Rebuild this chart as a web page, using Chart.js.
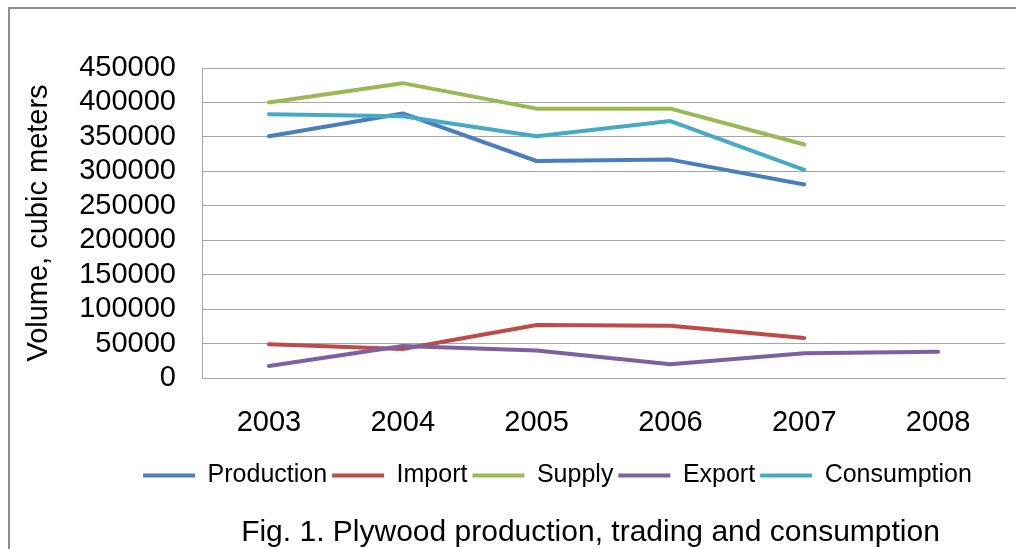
<!DOCTYPE html>
<html>
<head>
<meta charset="utf-8">
<script src="https://cdn.jsdelivr.net/npm/chart.js@4.4.1/dist/chart.umd.min.js"></script>
<style>
  html, body { margin: 0; padding: 0; background: #fff; }
  #wrap { width: 1016px; height: 549px; }
</style>
</head>
<body>
<div id="wrap"><canvas id="plywoodChart" width="1016" height="549"></canvas></div>
<script>
    // Data
    const years = ['2003', '2004', '2005', '2006', '2007', '2008'];
    const production = [351000, 384000, 315000, 317000, 281000];
    const importVol = [49000, 42000, 77000, 76000, 58000];
    const supply = [400000, 428000, 391000, 391000, 339000];
    const exportVol = [17500, 46500, 40000, 20000, 36000, 38000];
    const consumption = [383000, 380000, 351000, 373000, 302000];

    const FONT = '"Liberation Sans", Arial, sans-serif';

    // grey frame around the figure and nudges for legend/caption
    const framePlugin = {
        id: 'frame',
        beforeDraw(chart) {
            const c = chart.ctx;
            c.save();
            c.fillStyle = '#fff';
            c.fillRect(0, 0, chart.width, chart.height);
            c.strokeStyle = '#8c8c8c';
            c.lineWidth = 2;
            c.strokeRect(9, 8, 2000, 2000);
            c.restore();
        },
        afterLayout(chart) {
            chart.legend.left += 49;
            chart.legend.right += 49;
            chart.titleBlock.left += 82;
            chart.titleBlock.right += 82;
        }
    };

    function series(label, data, color, order) {
        return {
            label: label,
            data: data,
            borderColor: color,
            backgroundColor: color,
            borderWidth: 4,
            borderCapStyle: 'round',
            borderJoinStyle: 'round',
            pointRadius: 0,
            pointHoverRadius: 0,
            tension: 0,
            fill: false,
            order: order
        };
    }

    const ctx = document.getElementById('plywoodChart').getContext('2d');
    new Chart(ctx, {
        type: 'line',
        data: {
            labels: years,
            datasets: [
                series('Production', production, '#4a7ebb', 5),
                series('Import', importVol, '#be4b48', 4),
                series('Supply', supply, '#98b954', 3),
                series('Export', exportVol, '#7d60a0', 2),
                series('Consumption', consumption, '#46aac5', 1)
            ]
        },
        options: {
            responsive: false,
            devicePixelRatio: 1,
            animation: false,
            layout: {
                padding: { top: 68, left: 12, right: 11, bottom: 0 }
            },
            plugins: {
                legend: {
                    position: 'bottom',
                    labels: {
                        usePointStyle: true,
                        pointStyle: 'line',
                        pointStyleWidth: 52,
                        boxHeight: 4,
                        padding: 5,
                        color: '#000',
                        font: { family: FONT, size: 25 },
                        sort: (a, b) => a.datasetIndex - b.datasetIndex
                    }
                },
                title: {
                    display: true,
                    position: 'bottom',
                    text: 'Fig. 1. Plywood production, trading and consumption',
                    color: '#000',
                    font: { family: FONT, size: 30, weight: 'normal', lineHeight: 1.1 },
                    padding: { top: 18, bottom: 0 }
                },
                tooltip: { enabled: false }
            },
            scales: {
                x: {
                    offset: true,
                    grid: { display: false, drawTicks: false },
                    border: { display: true, color: '#a6a6a6' },
                    ticks: {
                        color: '#000',
                        padding: 28,
                        maxRotation: 0,
                        font: { family: FONT, size: 29 }
                    },
                    afterFit: (scale) => { scale.height = 80; }
                },
                y: {
                    min: 0,
                    max: 450000,
                    grid: { color: '#a6a6a6', lineWidth: 1, drawTicks: false },
                    border: { display: true, color: '#a6a6a6' },
                    ticks: {
                        stepSize: 50000,
                        autoSkip: false,
                        color: '#000',
                        padding: 26,
                        font: { family: FONT, size: 29 },
                        callback: (v) => String(v)
                    },
                    title: {
                        display: true,
                        text: 'Volume, cubic meters',
                        color: '#000',
                        font: { family: FONT, size: 29 },
                        padding: { top: 10, bottom: 0 }
                    },
                    afterFit: (scale) => { scale.width = 190; }
                }
            }
        },
        plugins: [framePlugin]
    });
</script>
</body>
</html>
